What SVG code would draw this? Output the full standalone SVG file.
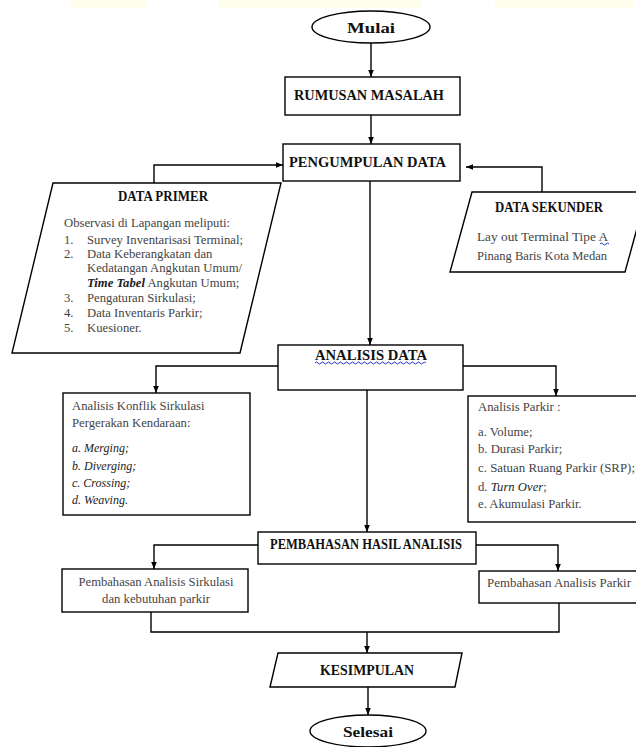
<svg xmlns="http://www.w3.org/2000/svg" width="636" height="747" viewBox="0 0 636 747">
<style>
.n{fill:#fff;stroke:#000;stroke-width:1.4}
.h{font-family:"Liberation Serif",serif;font-weight:bold;font-size:14px;fill:#111}
.t{font-family:"Liberation Serif",serif;font-size:12.7px;fill:#444}
.i{font-family:"Liberation Serif",serif;font-style:italic;font-size:12px;fill:#222}
.c{fill:none;stroke:#000;stroke-width:1.4}
.w{fill:none;stroke:#2233cc;stroke-width:1}
.m{text-anchor:middle}
</style>
<defs>
<marker id="a" viewBox="0 0 10 10" refX="10" refY="5" markerWidth="7" markerHeight="7" orient="auto" markerUnits="userSpaceOnUse"><path d="M0,1 L10,5 L0,9 z" fill="#000"/></marker>
</defs>
<rect width="636" height="747" fill="#fff"/>
<g id="topstrip" fill="#fffdec">
<rect x="71" y="0" width="75" height="8"/>
<rect x="219" y="0" width="203" height="8"/>
<rect x="495" y="0" width="138" height="8"/>
</g>
<g id="connectors">
<path class="c" d="M371,43 V77" marker-end="url(#a)"/>
<path class="c" d="M371,115 V144" marker-end="url(#a)"/>
<path class="c" d="M154,183 V165 H283" marker-end="url(#a)"/>
<path class="c" d="M542,192 V167 H466" marker-end="url(#a)"/>
<path class="c" d="M370,181 V345" marker-end="url(#a)"/>
<path class="c" d="M278,366 H156 V393" marker-end="url(#a)"/>
<path class="c" d="M463,366 H556 V396" marker-end="url(#a)"/>
<path class="c" d="M367,390 V532" marker-end="url(#a)"/>
<path class="c" d="M258,545 H154 V569" marker-end="url(#a)"/>
<path class="c" d="M476,545 H558 V571" marker-end="url(#a)"/>
<path class="c" d="M151,612 V632 H559 V603"/>
<path class="c" d="M367,632 V653" marker-end="url(#a)"/>
<path class="c" d="M368,687 V715" marker-end="url(#a)"/>
</g>
<g id="mulai">
<ellipse class="n" cx="371" cy="27" rx="59" ry="16"/>
<text class="h m" x="371" y="33" textLength="48" lengthAdjust="spacingAndGlyphs">Mulai</text>
</g>
<g id="rumusan">
<rect class="n" x="285" y="77" width="175" height="38"/>
<text class="h" x="294" y="100" textLength="150" lengthAdjust="spacingAndGlyphs">RUMUSAN MASALAH</text>
</g>
<g id="pengumpulan">
<rect class="n" x="283" y="144" width="177" height="37"/>
<text class="h" x="289" y="167" textLength="157" lengthAdjust="spacingAndGlyphs">PENGUMPULAN DATA</text>
</g>
<g id="dataprimer">
<polygon class="n" points="53,183 281,183 240,353 12,353"/>
<text class="h m" x="163" y="201" font-size="13" textLength="90" lengthAdjust="spacingAndGlyphs">DATA PRIMER</text>
<text class="t" x="64" y="227">Observasi di Lapangan meliputi:</text>
<text class="t" x="64" y="244">1.</text><text class="t" x="87" y="244">Survey Inventarisasi Terminal;</text>
<text class="t" x="64" y="258">2.</text><text class="t" x="87" y="258">Data Keberangkatan dan</text>
<text class="t" x="87" y="272">Kedatangan Angkutan Umum/</text>
<text class="t" x="87" y="287"><tspan font-weight="bold" font-style="italic" fill="#222">Time Tabel</tspan> Angkutan Umum;</text>
<text class="t" x="64" y="302">3.</text><text class="t" x="87" y="302">Pengaturan Sirkulasi;</text>
<text class="t" x="64" y="317">4.</text><text class="t" x="87" y="317">Data Inventaris  Parkir;</text>
<text class="t" x="64" y="332">5.</text><text class="t" x="87" y="332">Kuesioner.</text>
</g>
<g id="datasekunder">
<polygon class="n" points="472,192 647,192 625,272 450,272"/>
<text class="h m" x="549" y="212" font-size="13" textLength="108" lengthAdjust="spacingAndGlyphs">DATA SEKUNDER</text>
<text class="t" x="477" y="241" textLength="131" lengthAdjust="spacingAndGlyphs">Lay out Terminal Tipe A</text>
<path class="w" d="M600,244 q1.5,-2 3,0 t3,0 t3,0"/>
<text class="t" x="477" y="260" textLength="130" lengthAdjust="spacingAndGlyphs">Pinang Baris Kota Medan</text>
</g>
<g id="analisis">
<rect class="n" x="278" y="345" width="185" height="45"/>
<text class="h" x="315" y="360" textLength="112" lengthAdjust="spacingAndGlyphs">ANALISIS DATA</text>
<path class="w" d="M315,363 q1.5,-2 3,0 t3,0 t3,0 t3,0 t3,0 t3,0 t3,0 t3,0 t3,0 t3,0 t3,0 t3,0 t3,0 t3,0 t3,0 t3,0 t3,0 t3,0 t3,0 t3,0 t3,0 t3,0 t3,0 t3,0 t3,0 t3,0 t3,0 t3,0 t3,0 t3,0 t3,0 t3,0 t3,0 t3,0 t3,0 t3,0 t3,0"/>
</g>
<g id="konflik">
<rect class="n" x="63" y="393" width="187" height="122"/>
<text class="t" x="72" y="410">Analisis Konflik Sirkulasi</text>
<text class="t" x="72" y="427">Pergerakan Kendaraan:</text>
<text class="i" x="72" y="452">a. Merging;</text>
<text class="i" x="72" y="470">b. Diverging;</text>
<text class="i" x="72" y="487">c. Crossing;</text>
<text class="i" x="72" y="504">d. Weaving.</text>
</g>
<g id="parkir">
<rect class="n" x="468" y="396" width="172" height="126"/>
<text class="t" x="478" y="411">Analisis Parkir :</text>
<text class="t" x="478" y="436">a. Volume;</text>
<text class="t" x="478" y="453">b. Durasi Parkir;</text>
<text class="t" x="478" y="472" textLength="157" lengthAdjust="spacingAndGlyphs">c. Satuan Ruang Parkir (SRP);</text>
<text class="t" x="478" y="491">d. <tspan font-style="italic" fill="#222">Turn Over</tspan>;</text>
<text class="t" x="478" y="508">e. Akumulasi Parkir.</text>
</g>
<g id="pembahasan">
<rect class="n" x="258" y="532" width="218" height="32"/>
<text class="h" x="270" y="549" font-size="12" textLength="192" lengthAdjust="spacingAndGlyphs">PEMBAHASAN HASIL ANALISIS</text>
</g>
<g id="pembsirkulasi">
<rect class="n" x="62" y="569" width="186" height="43"/>
<text class="t m" x="156" y="586" textLength="155" lengthAdjust="spacingAndGlyphs">Pembahasan Analisis Sirkulasi</text>
<text class="t m" x="156" y="603">dan kebutuhan parkir</text>
</g>
<g id="pembparkir">
<rect class="n" x="479" y="571" width="161" height="32"/>
<text class="t" x="487" y="587" textLength="144" lengthAdjust="spacingAndGlyphs">Pembahasan Analisis  Parkir</text>
</g>
<g id="kesimpulan">
<polygon class="n" points="278,653 462,653 455,687 270,687"/>
<text class="h m" x="367" y="675" textLength="94" lengthAdjust="spacingAndGlyphs">KESIMPULAN</text>
</g>
<g id="selesai">
<ellipse class="n" cx="368" cy="731" rx="58" ry="16"/>
<text class="h m" x="368" y="737" textLength="50" lengthAdjust="spacingAndGlyphs">Selesai</text>
</g>
</svg>
